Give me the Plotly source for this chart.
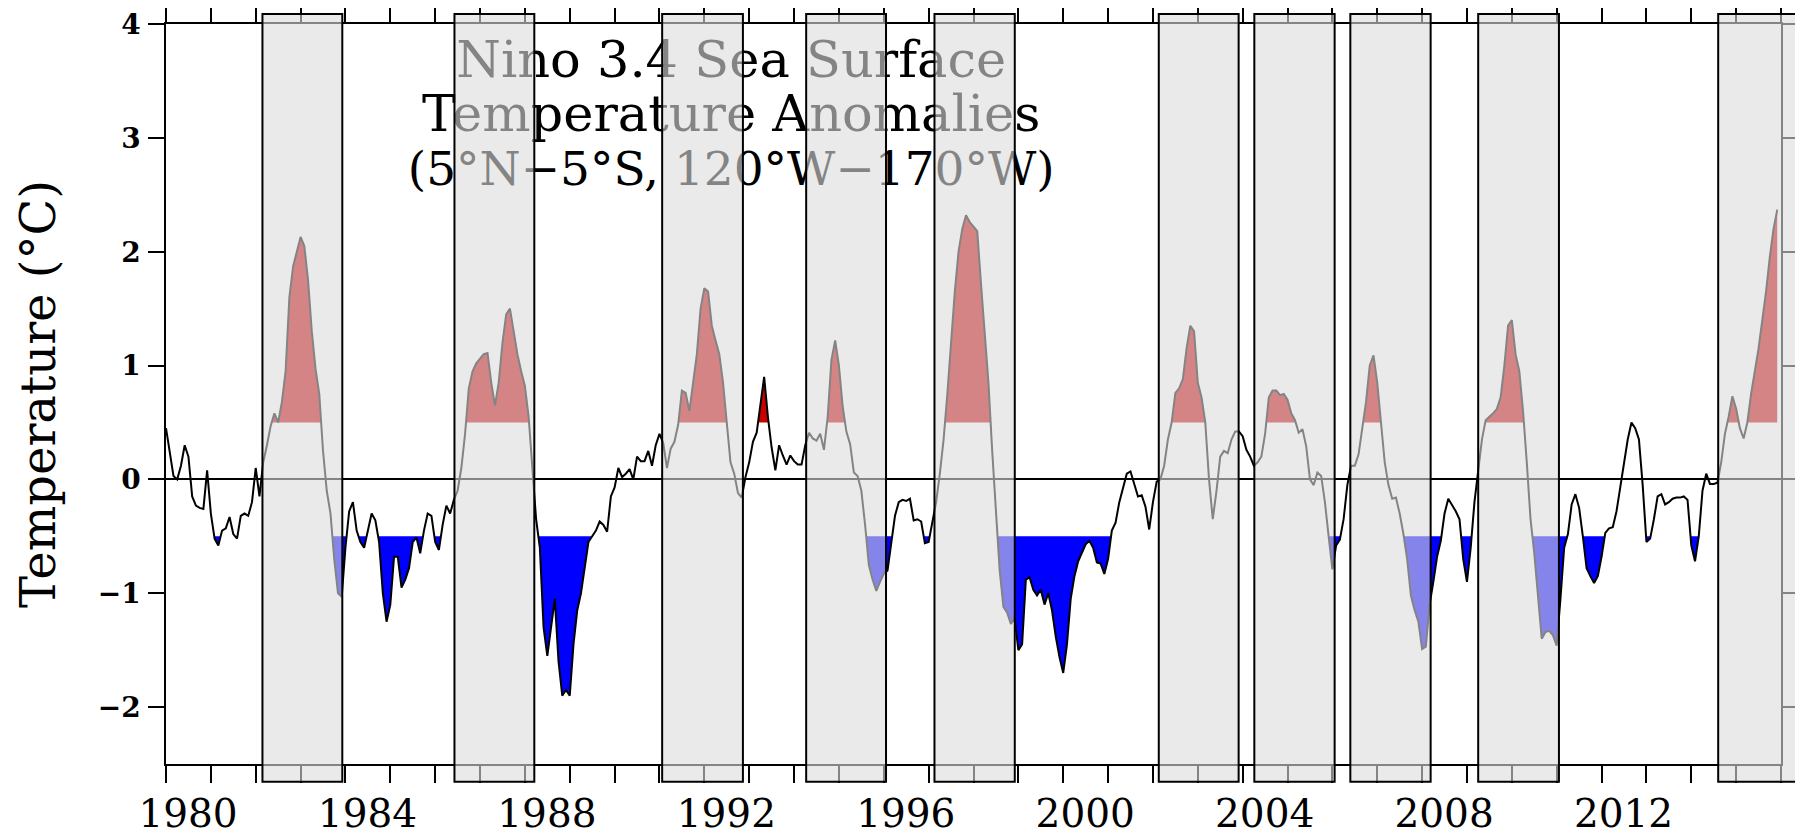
import numpy as np
import plotly.graph_objects as go

# ---------------- data (monthly Nino 3.4 SST anomaly, degC) ----------------
START_YEAR = 1980

anom_1980s = [
    0.45, 0.25, 0.03, 0.0, 0.12, 0.3, 0.2, -0.15, -0.23, -0.25, -0.26, 0.08,      # 1980
    -0.3, -0.52, -0.58, -0.45, -0.43, -0.33, -0.48, -0.52, -0.32, -0.3, -0.32, -0.2,  # 1981
    0.1, -0.15, 0.15, 0.3, 0.47, 0.58, 0.5, 0.68, 0.95, 1.6, 1.87, 2.0,          # 1982
    2.13, 2.05, 1.75, 1.3, 0.97, 0.75, 0.25, -0.1, -0.3, -0.7, -1.0, -1.03,      # 1983
    -0.6, -0.28, -0.2, -0.45, -0.55, -0.6, -0.45, -0.3, -0.36, -0.55, -1.0, -1.25,  # 1984
    -1.1, -0.68, -0.68, -0.95, -0.88, -0.78, -0.55, -0.51, -0.65, -0.45, -0.3, -0.32,  # 1985
    -0.55, -0.62, -0.4, -0.23, -0.3, -0.18, -0.1, 0.1, 0.4, 0.8, 0.95, 1.02,     # 1986
    1.06, 1.1, 1.11, 0.85, 0.65, 0.85, 1.2, 1.45, 1.5, 1.3, 1.1, 0.95,           # 1987
    0.82, 0.55, 0.05, -0.35, -0.6, -1.3, -1.55, -1.3, -1.05, -1.6, -1.9, -1.85,  # 1988
    -1.9, -1.45, -1.15, -1.0, -0.75, -0.55, -0.5, -0.45, -0.37, -0.4, -0.46, -0.15,  # 1989
]
anom_1990s = [
    -0.07, 0.1, 0.02, 0.05, 0.09, 0.0, 0.2, 0.16, 0.16, 0.25, 0.12, 0.3,         # 1990
    0.4, 0.32, 0.1, 0.27, 0.33, 0.48, 0.78, 0.76, 0.6, 0.85, 1.1, 1.5,           # 1991
    1.68, 1.65, 1.35, 1.22, 1.1, 0.85, 0.5, 0.15, 0.05, -0.12, -0.16, 0.02,      # 1992
    0.15, 0.33, 0.41, 0.65, 0.9, 0.55, 0.28, 0.08, 0.3, 0.21, 0.13, 0.21,        # 1993
    0.16, 0.13, 0.13, 0.3, 0.41, 0.36, 0.34, 0.4, 0.26, 0.55, 1.05, 1.22,        # 1994
    1.0, 0.64, 0.42, 0.31, 0.06, 0.03, -0.1, -0.4, -0.75, -0.88, -0.98, -0.9,    # 1995
    -0.83, -0.8, -0.55, -0.32, -0.2, -0.18, -0.19, -0.17, -0.36, -0.35, -0.37, -0.56,  # 1996
    -0.55, -0.38, -0.2, 0.05, 0.35, 0.75, 1.25, 1.65, 2.0, 2.2, 2.32, 2.26,      # 1997
    2.22, 2.18, 1.72, 1.29, 0.85, 0.25, -0.3, -0.8, -1.12, -1.17, -1.27, -1.22,  # 1998
    -1.5, -1.45, -0.88, -0.86, -0.97, -1.02, -0.97, -1.1, -1.0, -1.15, -1.38, -1.56,  # 1999
]
anom_2000s = [
    -1.7, -1.45, -1.05, -0.85, -0.72, -0.65, -0.57, -0.54, -0.6, -0.73, -0.74, -0.83,  # 2000
    -0.7, -0.45, -0.38, -0.2, -0.08, 0.05, 0.07, -0.05, -0.15, -0.14, -0.24, -0.44,  # 2001
    -0.2, -0.02, 0.0, 0.12, 0.35, 0.5, 0.76, 0.8, 0.88, 1.15, 1.35, 1.3,         # 2002
    0.85, 0.72, 0.5, 0.0, -0.35, -0.1, 0.2, 0.25, 0.23, 0.35, 0.42, 0.42,        # 2003
    0.38, 0.26, 0.2, 0.12, 0.15, 0.2, 0.4, 0.72, 0.78, 0.78, 0.74, 0.75,         # 2004
    0.7, 0.58, 0.52, 0.41, 0.44, 0.29, 0.0, -0.05, 0.06, 0.03, -0.2, -0.5,       # 2005
    -0.79, -0.58, -0.53, -0.35, -0.05, 0.12, 0.12, 0.22, 0.45, 0.68, 1.0, 1.09,  # 2006
    0.85, 0.5, 0.15, -0.05, -0.17, -0.16, -0.3, -0.48, -0.7, -1.02, -1.15, -1.25,  # 2007
    -1.49, -1.47, -1.1, -0.9, -0.68, -0.54, -0.3, -0.17, -0.22, -0.28, -0.35, -0.7,  # 2008
    -0.9, -0.6, -0.2, 0.1, 0.35, 0.52, 0.55, 0.58, 0.62, 0.72, 1.0, 1.35,        # 2009
]
anom_2010s = [
    1.4, 1.1, 0.95, 0.6, 0.15, -0.35, -0.65, -1.02, -1.4, -1.34, -1.33, -1.37,   # 2010
    -1.46, -1.05, -0.6, -0.48, -0.22, -0.13, -0.25, -0.5, -0.78, -0.85, -0.91, -0.85,  # 2011
    -0.68, -0.47, -0.43, -0.42, -0.28, -0.07, 0.15, 0.35, 0.5, 0.45, 0.35, -0.05,  # 2012
    -0.55, -0.52, -0.35, -0.15, -0.13, -0.22, -0.2, -0.17, -0.16, -0.16, -0.15, -0.18,  # 2013
    -0.58, -0.72, -0.5, -0.1, 0.05, -0.04, -0.04, -0.03, 0.15, 0.4, 0.55, 0.73,  # 2014
    0.62, 0.45, 0.36, 0.5, 0.75, 0.95, 1.15, 1.4, 1.65, 1.95, 2.2, 2.37,         # 2015
]

# shaded El Nino periods (decimal years)
event_starts = [1982.15, 1986.43, 1991.06, 1994.27, 1997.13, 2002.13, 2004.26, 2006.40, 2009.25, 2014.60]
event_ends = [1983.93, 1988.21, 1992.86, 1996.05, 1998.92, 2003.91, 2006.05, 2008.19, 2011.05, 2016.38]

label_years = [1980, 1984, 1988, 1992, 1996, 2000, 2004, 2008, 2012]
y_ticks = [-2, -1, 0, 1, 2, 3, 4]
warm_threshold = 0.5
cold_threshold = -0.5
title_lines = ["Nino 3.4 Sea Surface", "Temperature Anomalies", "(5°N\u22125°S, 120°W\u2212170°W)"]
y_title = "Temperature (°C)"

# ---------------- styling / layout constants ----------------
X_RANGE = [1980, 2016]
Y_RANGE = [-2.5, 4]
RECT_TOP, RECT_BOTTOM = 4.088, -2.655
TITLE_X = 1992.6
TITLE_LINE_Y = [3.65, 3.17, 2.69]
TITLE_SIZES = [51, 51, 47]
FONT = "DejaVu Serif"
RED = "rgb(200,0,0)"
BLUE = "rgb(0,0,255)"

anom = np.array(anom_1980s + anom_1990s + anom_2000s + anom_2010s, dtype=float)
t = START_YEAR + np.arange(len(anom)) / 12.0


def with_crossings(tx, vy, levels):
    tt, vv = [tx[0]], [vy[0]]
    for k in range(1, len(tx)):
        t0, t1, v0, v1 = tx[k - 1], tx[k], vy[k - 1], vy[k]
        cross = []
        for lev in levels:
            if (v0 - lev) * (v1 - lev) < 0:
                f = (lev - v0) / (v1 - v0)
                cross.append((t0 + f * (t1 - t0), lev))
        cross.sort()
        for c in cross:
            tt.append(c[0])
            vv.append(c[1])
        tt.append(t1)
        vv.append(v1)
    return np.array(tt), np.array(vv)


ta, va = with_crossings(t, anom, [warm_threshold, cold_threshold])

fig = go.Figure()
# warm fill
fig.add_trace(go.Scatter(x=ta, y=np.full(len(ta), warm_threshold), mode="lines",
                         line=dict(width=0), hoverinfo="skip"))
fig.add_trace(go.Scatter(x=ta, y=np.maximum(va, warm_threshold), mode="lines",
                         line=dict(width=0), fill="tonexty", fillcolor=RED, hoverinfo="skip"))
# cold fill
fig.add_trace(go.Scatter(x=ta, y=np.full(len(ta), cold_threshold), mode="lines",
                         line=dict(width=0), hoverinfo="skip"))
fig.add_trace(go.Scatter(x=ta, y=np.minimum(va, cold_threshold), mode="lines",
                         line=dict(width=0), fill="tonexty", fillcolor=BLUE, hoverinfo="skip"))
# anomaly line
fig.add_trace(go.Scatter(x=t, y=anom, mode="lines", line=dict(color="black", width=2)))
# title as text inside the plot (so the shaded boxes overlay it)
fig.add_trace(go.Scatter(x=[TITLE_X] * len(title_lines), y=TITLE_LINE_Y, mode="text",
                         text=title_lines, textposition="middle center",
                         textfont=dict(family=FONT, size=TITLE_SIZES, color="black"),
                         hoverinfo="skip"))


def xp(x):
    return (x - X_RANGE[0]) / (X_RANGE[1] - X_RANGE[0])


def yp(y):
    return (y - Y_RANGE[0]) / (Y_RANGE[1] - Y_RANGE[0])


for s, e in zip(event_starts, event_ends):
    fig.add_shape(type="rect", xref="paper", yref="paper",
                  x0=xp(s), x1=xp(e), y0=yp(RECT_BOTTOM), y1=yp(RECT_TOP),
                  fillcolor="rgba(220,220,220,0.6)", line=dict(color="black", width=2),
                  layer="above")

year_ticks = list(range(X_RANGE[0], X_RANGE[1] + 1))
# the page body has an 8px margin: size the figure so it ends at the window edge
fig.update_layout(
    width=1795, height=827,
    margin=dict(l=158, r=22, t=16, b=71),
    paper_bgcolor="white", plot_bgcolor="white",
    showlegend=False,
    xaxis=dict(range=X_RANGE, tickvals=year_ticks,
               ticktext=[str(y) if y in label_years else "" for y in year_ticks],
               ticks="outside", ticklen=17, tickwidth=1.5, tickcolor="black",
               showline=True, linecolor="black", linewidth=1.5, mirror="ticks",
               showgrid=False, zeroline=False, automargin=False,
               ticklabelshift=22, ticklabelstandoff=-3, ticklabeloverflow="allow",
               tickfont=dict(family=FONT, size=39, color="black")),
    yaxis=dict(range=Y_RANGE, tickvals=y_ticks,
               ticks="outside", ticklen=16, tickwidth=1.5, tickcolor="black",
               showline=True, linecolor="black", linewidth=1.5, mirror="ticks",
               showgrid=False, zeroline=True, zerolinecolor="black", zerolinewidth=1.5,
               automargin=False, ticklabelstandoff=2, ticklabeloverflow="allow",
               tickfont=dict(family=FONT, size=28, color="black", weight="bold"),
               title=dict(text=y_title, standoff=27,
                          font=dict(family=FONT, size=48, color="black"))),
)

fig.write_html("out.html")
